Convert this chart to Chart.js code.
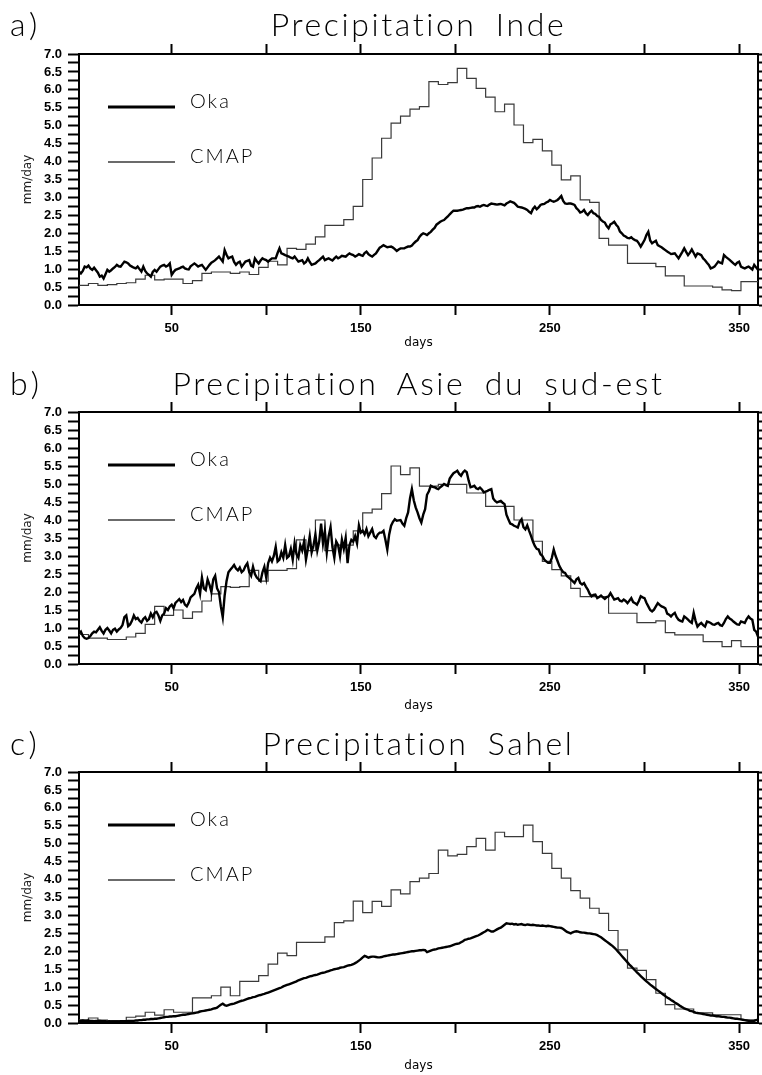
<!DOCTYPE html>
<html>
<head>
<meta charset="utf-8">
<script src="https://cdn.jsdelivr.net/npm/chart.js@4.4.1/dist/chart.umd.min.js"></script>
<style>
  body { margin: 0; background: #fff; width: 762px; height: 1075px; position: relative; overflow: hidden; }
  .panneau { position: absolute; left: 0; width: 762px; }
  .panneau canvas { position: absolute; left: 0; top: 0; }
  .lettre, .titre { position: absolute; font-family: Lato, "DejaVu Sans", sans-serif; font-weight: 300; font-size: 32px; line-height: 32px; color: #000; white-space: nowrap; }
  .lettre { left: 10px; letter-spacing: 4px; }
  .titre { left: 79px; width: 679px; text-align: center; letter-spacing: 2.6px; word-spacing: 8px; }
</style>
</head>
<body>
<div class="panneau" style="top:0;height:360px"><canvas id="c1" width="762" height="360"></canvas></div>
<div class="panneau" style="top:360px;height:360px"><canvas id="c2" width="762" height="360"></canvas></div>
<div class="panneau" style="top:720px;height:355px"><canvas id="c3" width="762" height="355"></canvas></div>
<div class="lettre" style="top:8px">a)</div>
<div class="titre" style="top:8px">Precipitation Inde</div>
<div class="lettre" style="top:367px">b)</div>
<div class="titre" style="top:367px">Precipitation Asie du sud-est</div>
<div class="lettre" style="top:727px">c)</div>
<div class="titre" style="top:727px">Precipitation Sahel</div>
<script>
// axes
var xTicks = [50, 100, 150, 200, 250, 300, 350];
var xLabels = [50, 150, 250, 350];
var yTicks = [0, 0.25, 0.5, 0.75, 1, 1.25, 1.5, 1.75, 2, 2.25, 2.5, 2.75, 3, 3.25, 3.5, 3.75, 4, 4.25, 4.5, 4.75, 5, 5.25, 5.5, 5.75, 6, 6.25, 6.5, 6.75, 7];
var yLabels = [0, 0.5, 1, 1.5, 2, 2.5, 3, 3.5, 4, 4.5, 5, 5.5, 6, 6.5, 7];

// jours 1..360 (Oka, journalier) et debut de chaque pentade (CMAP)
var jours = [];
for (var j = 1; j <= 360; j++) jours.push(j);
var pentades = [];
for (var p = 0; p < 72; p++) pentades.push(p * 5 + 1);

// a) Inde
var okaInde = [
  0.93,0.88,0.95,1.07,1.05,1.10,1.02,0.98,1.04,0.97,0.90,0.79,0.82,0.74,0.86,0.98,0.93,0.97,1.02,1.06,
  1.12,1.08,1.07,1.14,1.21,1.19,1.16,1.10,1.07,1.04,1.02,1.07,1.00,0.93,1.07,0.95,0.88,0.84,0.79,0.92,
  0.98,0.93,1.00,1.07,1.10,1.12,1.07,1.10,1.16,0.84,0.92,0.98,1.00,1.02,1.05,1.07,1.02,1.00,0.99,1.08,
  1.12,1.16,1.12,1.07,1.10,1.12,1.05,0.98,1.05,1.12,1.18,1.21,1.25,1.30,1.35,1.28,1.21,1.53,1.40,1.30,
  1.33,1.35,1.20,1.12,1.18,1.21,1.07,1.14,1.21,1.23,1.25,1.10,1.07,1.30,1.22,1.16,1.24,1.30,1.27,1.25,
  1.21,1.26,1.30,1.30,1.30,1.45,1.58,1.44,1.42,1.39,1.37,1.35,1.32,1.30,1.35,1.28,1.21,1.23,1.25,1.16,
  1.20,1.30,1.20,1.12,1.14,1.16,1.21,1.25,1.30,1.35,1.25,1.28,1.30,1.27,1.24,1.30,1.35,1.30,1.33,1.37,
  1.36,1.35,1.40,1.44,1.41,1.39,1.35,1.38,1.42,1.39,1.37,1.45,1.49,1.42,1.38,1.35,1.40,1.44,1.52,1.60,
  1.63,1.67,1.64,1.61,1.62,1.63,1.60,1.56,1.51,1.55,1.58,1.58,1.58,1.61,1.63,1.63,1.66,1.72,1.77,1.81,
  1.90,1.96,2.00,1.98,1.95,2.00,2.04,2.10,2.15,2.24,2.28,2.32,2.35,2.37,2.42,2.47,2.53,2.58,2.63,2.63,
  2.63,2.64,2.65,2.66,2.68,2.70,2.70,2.71,2.72,2.72,2.75,2.76,2.74,2.77,2.79,2.77,2.76,2.80,2.83,2.82,
  2.81,2.80,2.81,2.82,2.80,2.78,2.83,2.86,2.89,2.87,2.85,2.80,2.74,2.73,2.72,2.70,2.68,2.65,2.60,2.56,
  2.68,2.74,2.67,2.72,2.79,2.81,2.82,2.86,2.88,2.93,2.90,2.88,2.90,2.93,2.98,3.04,2.90,2.83,2.82,2.83,
  2.83,2.81,2.79,2.70,2.65,2.58,2.60,2.65,2.56,2.51,2.58,2.63,2.56,2.54,2.48,2.46,2.37,2.33,2.30,2.20,
  2.14,2.25,2.28,2.32,2.24,2.18,2.05,2.00,1.94,1.91,1.87,1.86,1.89,1.84,1.81,1.79,1.72,1.63,1.72,1.81,
  1.95,2.04,1.80,1.72,1.76,1.79,1.67,1.64,1.61,1.57,1.53,1.49,1.46,1.42,1.43,1.44,1.37,1.30,1.39,1.48,
  1.58,1.48,1.39,1.46,1.55,1.45,1.35,1.44,1.42,1.39,1.30,1.25,1.18,1.12,1.02,1.04,1.07,1.14,1.21,1.18,
  1.16,1.39,1.34,1.30,1.26,1.21,1.16,1.12,1.18,1.21,1.07,1.04,1.02,1.05,1.07,1.03,0.99,1.12,1.05,0.98
];
var cmapInde = [
  0.45,0.55,0.60,0.55,0.57,0.60,0.62,0.72,0.83,0.70,0.72,0.72,0.60,0.68,0.88,0.92,0.92,0.88,0.92,0.85,
  1.05,1.22,1.12,1.58,1.55,1.70,1.90,2.22,2.22,2.38,2.75,3.50,4.10,4.65,5.07,5.27,5.46,5.53,6.23,6.15,
  6.20,6.60,6.32,6.04,5.80,5.39,5.60,5.02,4.53,4.62,4.30,3.90,3.49,3.60,2.93,2.86,1.86,1.67,1.67,1.16,
  1.16,1.16,1.07,0.81,0.81,0.53,0.53,0.53,0.50,0.42,0.40,0.65
];

// b) Asie du sud-est
var okaAsie = [
  0.85,0.90,0.78,0.72,0.70,0.72,0.78,0.85,0.90,0.88,0.95,1.02,0.92,0.85,0.95,1.00,0.93,0.85,0.95,0.98,
  0.90,0.96,1.00,1.08,1.30,1.35,1.05,1.10,1.20,1.35,1.25,1.28,1.20,1.15,1.25,1.30,1.20,1.25,1.40,1.30,
  1.42,1.45,1.35,1.20,1.35,1.40,1.55,1.50,1.60,1.65,1.55,1.70,1.75,1.80,1.72,1.78,1.65,1.60,1.70,1.85,
  1.90,1.95,2.10,2.20,1.95,2.40,2.10,2.05,2.35,2.20,2.00,2.35,2.45,2.10,2.00,1.60,1.30,1.90,2.30,2.55,
  2.62,2.68,2.75,2.65,2.60,2.68,2.55,2.60,2.72,2.80,2.55,2.45,2.70,2.50,2.40,2.35,2.30,2.55,2.70,2.40,
  2.80,2.95,2.85,3.00,3.25,2.85,2.90,3.10,2.95,3.30,2.95,3.00,3.20,2.90,3.35,3.05,2.95,3.30,3.15,3.40,
  2.90,3.20,3.55,3.10,3.30,3.60,3.15,3.40,3.90,3.35,3.70,3.10,3.55,3.80,3.25,2.95,3.40,3.30,3.00,3.45,
  3.20,3.50,2.80,3.30,3.45,3.40,3.55,3.35,3.85,3.65,3.70,3.60,3.75,3.55,3.65,3.75,3.55,3.50,3.60,3.65,
  3.65,3.70,3.45,3.18,3.60,3.84,3.95,4.02,3.98,3.99,4.00,3.90,3.84,4.05,4.21,4.60,4.86,4.55,4.35,4.21,
  4.05,3.93,4.15,4.30,4.70,4.80,4.95,4.92,4.91,4.88,4.86,4.91,4.95,5.00,4.97,4.95,5.15,5.23,5.30,5.33,
  5.37,5.28,5.23,5.32,5.37,5.33,5.10,4.91,4.93,4.95,4.88,4.86,4.90,4.85,4.77,4.79,4.81,4.84,4.86,4.60,
  4.53,4.49,4.51,4.53,4.48,4.44,4.15,4.02,3.90,3.88,3.84,3.82,3.79,3.95,4.02,3.80,3.74,3.85,3.70,3.56,
  3.40,3.28,3.20,3.18,3.05,3.00,2.90,2.85,2.81,2.81,2.95,3.18,3.00,2.86,2.72,2.63,2.55,2.53,2.44,2.40,
  2.35,2.30,2.25,2.35,2.39,2.25,2.21,2.25,2.15,2.07,1.95,1.88,1.92,1.93,1.83,1.86,1.90,1.85,1.81,1.86,
  1.88,1.97,1.88,1.79,1.81,1.83,1.76,1.74,1.79,1.75,1.69,1.76,1.83,1.72,1.69,1.65,1.75,1.88,1.85,1.83,
  1.70,1.60,1.50,1.46,1.51,1.60,1.69,1.64,1.60,1.58,1.55,1.40,1.37,1.32,1.38,1.42,1.30,1.23,1.20,1.18,
  1.32,1.28,1.23,1.18,1.14,1.42,1.20,1.04,1.10,1.14,1.08,1.04,1.18,1.16,1.14,1.10,1.09,1.12,1.14,1.08,
  1.06,1.14,1.25,1.32,1.26,1.23,1.18,1.14,1.10,1.09,1.18,1.16,1.14,1.25,1.32,1.26,1.23,0.95,0.90,0.76
];
var cmapAsie = [
  0.80,0.82,0.72,0.72,0.68,0.68,0.75,0.85,1.10,1.60,1.35,1.50,1.27,1.45,1.75,1.95,2.15,2.13,2.15,2.60,
  2.30,2.60,2.60,2.65,3.45,3.15,4.00,3.15,3.30,3.30,3.70,4.20,4.30,4.73,5.50,5.26,5.45,4.94,4.94,4.99,
  4.99,4.99,4.75,4.75,4.38,4.38,4.38,4.00,4.00,3.41,2.85,2.62,2.45,2.10,1.87,1.87,1.87,1.41,1.41,1.41,
  1.15,1.15,1.20,0.87,0.81,0.81,0.81,0.62,0.62,0.48,0.65,0.48
];

// c) Sahel
var okaSahel = [
  0.06,0.06,0.07,0.06,0.06,0.07,0.06,0.06,0.05,0.06,0.06,0.06,0.05,0.05,0.05,0.04,0.05,0.04,0.04,0.04,0.04,0.04,0.05,0.05,0.05,0.05,0.06,0.06,0.06,0.06,
  0.07,0.07,0.08,0.08,0.09,0.09,0.10,0.10,0.11,0.11,0.12,0.12,0.13,0.14,0.15,0.16,0.17,0.17,0.18,0.18,0.19,0.19,0.20,0.21,0.22,0.23,0.23,0.24,0.25,0.26,
  0.27,0.28,0.29,0.30,0.32,0.33,0.34,0.35,0.36,0.37,0.38,0.40,0.41,0.43,0.47,0.51,0.54,0.50,0.48,0.50,0.52,0.53,0.54,0.56,0.58,0.60,0.62,0.63,0.65,0.67,
  0.69,0.70,0.72,0.73,0.75,0.77,0.78,0.80,0.81,0.83,0.85,0.87,0.89,0.91,0.93,0.95,0.97,0.99,1.02,1.04,1.06,1.08,1.10,1.12,1.14,1.16,1.19,1.21,1.23,1.25,
  1.26,1.28,1.30,1.31,1.33,1.34,1.35,1.37,1.39,1.40,1.41,1.43,1.45,1.47,1.48,1.50,1.51,1.52,1.54,1.55,1.56,1.58,1.60,1.61,1.62,1.64,1.67,1.70,1.74,1.78,
  1.83,1.87,1.85,1.82,1.84,1.85,1.85,1.84,1.83,1.83,1.84,1.86,1.87,1.88,1.89,1.90,1.91,1.91,1.92,1.93,1.94,1.95,1.96,1.97,1.98,1.99,2.00,2.00,2.01,2.02,
  2.03,2.03,2.04,2.03,1.98,2.00,2.02,2.04,2.05,2.06,2.08,2.09,2.10,2.11,2.12,2.13,2.14,2.16,2.18,2.20,2.21,2.22,2.25,2.28,2.32,2.33,2.35,2.36,2.38,2.40,
  2.42,2.44,2.47,2.50,2.53,2.56,2.60,2.58,2.55,2.55,2.58,2.61,2.64,2.66,2.70,2.74,2.78,2.77,2.76,2.77,2.75,2.76,2.74,2.75,2.76,2.74,2.73,2.75,2.74,2.73,
  2.74,2.73,2.72,2.72,2.71,2.72,2.71,2.70,2.71,2.70,2.69,2.68,2.67,2.66,2.66,2.65,2.62,2.58,2.54,2.52,2.50,2.53,2.55,2.56,2.55,2.53,2.52,2.52,2.51,2.50,
  2.50,2.49,2.48,2.47,2.45,2.42,2.39,2.35,2.31,2.27,2.23,2.19,2.15,2.10,2.05,1.99,1.93,1.87,1.81,1.75,1.69,1.63,1.58,1.52,1.47,1.41,1.36,1.31,1.26,1.21,
  1.16,1.12,1.07,1.03,0.99,0.95,0.91,0.87,0.83,0.79,0.75,0.71,0.68,0.64,0.61,0.57,0.54,0.51,0.47,0.44,0.41,0.39,0.37,0.34,0.33,0.31,0.29,0.28,0.27,0.26,
  0.25,0.24,0.23,0.22,0.21,0.21,0.20,0.19,0.19,0.18,0.17,0.17,0.16,0.15,0.15,0.14,0.13,0.12,0.12,0.11,0.10,0.09,0.08,0.07,0.06,0.05,0.05,0.06,0.08,0.09
];
var cmapSahel = [
  0.09,0.09,0.14,0.08,0.07,0.07,0.16,0.19,0.30,0.22,0.37,0.30,0.30,0.70,0.70,0.76,1.00,0.76,1.16,1.16,
  1.32,1.64,1.95,1.88,2.25,2.25,2.25,2.40,2.80,2.85,3.40,3.08,3.39,3.25,3.71,3.60,3.94,4.04,4.17,4.82,
  4.66,4.70,4.92,5.15,4.82,5.32,5.20,5.20,5.52,5.06,4.73,4.31,4.04,3.69,3.48,3.20,3.06,2.58,2.04,1.53,
  1.47,1.21,0.83,0.51,0.39,0.39,0.28,0.28,0.23,0.23,0.23,0.09
];

// legende dessinee dans la zone du graphe, en haut a gauche
var legendeLignes = {
  id: 'legendeLignes',
  afterDatasetsDraw: function(chart) {
    var ctx = chart.ctx, zone = chart.chartArea;
    chart.data.datasets.forEach(function(ds, i) {
      var y = zone.top + 53 + i * 55;
      var x0 = zone.left + 29;
      ctx.save();
      ctx.strokeStyle = ds.borderColor;
      ctx.lineWidth = i == 0 ? 3 : 1.5;
      ctx.beginPath();
      ctx.moveTo(x0, y);
      ctx.lineTo(x0 + 67, y);
      ctx.stroke();
      ctx.fillStyle = '#000';
      ctx.font = '300 20px Lato, "DejaVu Sans", sans-serif';
      ctx.letterSpacing = '2px';
      ctx.textBaseline = 'alphabetic';
      ctx.fillText(ds.label, x0 + 82, y + 1);
      ctx.restore();
    });
  }
};

function points(xs, ys) {
  var out = [];
  for (var i = 0; i < ys.length; i++) out.push({x: xs[i], y: ys[i]});
  return out;
}

function ticksX(s) { s.ticks = xTicks.map(function(v) { return {value: v}; }); }
function ticksY(s) { s.ticks = yTicks.map(function(v) { return {value: v}; }); }

var grille = { drawOnChartArea: false, drawTicks: true, tickLength: 10, tickWidth: 2, tickColor: '#000' };
var bord = { display: true, color: '#000', width: 2 };
var policeTicks = { family: '"Liberation Sans", Arial, sans-serif', weight: 'bold', size: 13 };

function graphe(id, oka, cmap, hautH, basH, titrePad) {
  var cmapPts = points(pentades, cmap);
  cmapPts.push({x: 360, y: cmap[cmap.length - 1]});
  return new Chart(document.getElementById(id), {
    type: 'line',
    data: {
      datasets: [
        { label: 'Oka', data: points(jours, oka), borderColor: '#000', borderWidth: 2.4, pointRadius: 0, tension: 0, fill: false },
        { label: 'CMAP', data: cmapPts, borderColor: '#3a3a3a', borderWidth: 1.2, pointRadius: 0, stepped: 'after', fill: false }
      ]
    },
    options: {
      responsive: false,
      animation: false,
      layout: { padding: 0 },
      plugins: { legend: { display: false }, tooltip: { enabled: false } },
      scales: {
        x: {
          type: 'linear', position: 'bottom', min: 1, max: 360,
          afterBuildTicks: ticksX,
          afterFit: function(s) { s.height = basH; },
          ticks: { autoSkip: false, maxRotation: 0, padding: 6, color: '#000', font: policeTicks,
                   callback: function(v) { return xLabels.indexOf(v) >= 0 ? String(v) : ''; } },
          grid: grille, border: bord,
          title: { display: true, text: 'days', color: '#000', font: { family: '"DejaVu Sans", sans-serif', size: 12 }, padding: { top: 0, bottom: titrePad } }
        },
        xHaut: {
          type: 'linear', position: 'top', min: 1, max: 360,
          afterBuildTicks: ticksX,
          afterFit: function(s) { s.height = hautH; },
          ticks: { autoSkip: false, callback: function() { return ''; } },
          grid: grille, border: bord
        },
        y: {
          type: 'linear', position: 'left', min: 0, max: 7,
          afterBuildTicks: ticksY,
          afterFit: function(s) { s.width = 79; },
          ticks: { autoSkip: false, padding: 6, color: '#000', font: policeTicks,
                   callback: function(v) { return yLabels.indexOf(v) >= 0 ? v.toFixed(1) : ''; } },
          grid: { drawOnChartArea: false, drawTicks: true, tickLength: 11, tickWidth: 2, tickColor: '#000' },
          border: bord,
          title: { display: true, text: 'mm/day', color: '#222', font: { family: '"DejaVu Sans", sans-serif', size: 12 }, padding: { top: 21, bottom: 0 } }
        },
        yDroite: {
          type: 'linear', position: 'right', min: 0, max: 7,
          afterBuildTicks: ticksY,
          afterFit: function(s) { s.width = 4; },
          ticks: { autoSkip: false, callback: function() { return ''; } },
          grid: { drawOnChartArea: false, drawTicks: true, tickLength: 4, tickWidth: 2, tickColor: '#000' },
          border: bord
        }
      }
    },
    plugins: [legendeLignes]
  });
}

graphe('c1', okaInde, cmapInde, 54, 55, 10);
graphe('c2', okaAsie, cmapAsie, 52, 56, 7);
graphe('c3', okaSahel, cmapSahel, 52, 52, 2);
</script>
</body>
</html>
